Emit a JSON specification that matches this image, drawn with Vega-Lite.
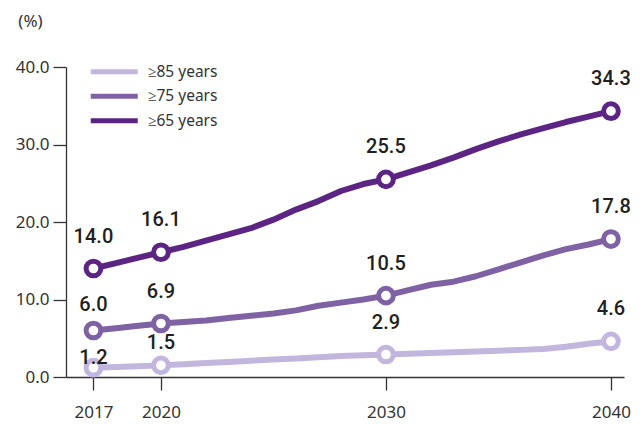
{
  "$schema": "https://vega.github.io/schema/vega-lite/v6.json",
  "width": 558,
  "height": 310,
  "autosize": "none",
  "padding": {"left": 66, "top": 67, "right": 20, "bottom": 48},
  "background": "white",
  "config": {
    "view": {"stroke": null},
    "font": "Noto Sans",
    "axis": {"grid": false, "domainColor": "#333333", "tickColor": "#333333", "labelColor": "#333333", "labelFontSize": 17, "domainWidth": 1.3, "tickWidth": 1.3}
  },
  "data": {"values": [
    {"year": 2017, "group": "≥65 years", "value": 14.0},
    {"year": 2018, "group": "≥65 years", "value": 14.7},
    {"year": 2019, "group": "≥65 years", "value": 15.4},
    {"year": 2020, "group": "≥65 years", "value": 16.1},
    {"year": 2021, "group": "≥65 years", "value": 16.8},
    {"year": 2022, "group": "≥65 years", "value": 17.6},
    {"year": 2023, "group": "≥65 years", "value": 18.4},
    {"year": 2024, "group": "≥65 years", "value": 19.2},
    {"year": 2025, "group": "≥65 years", "value": 20.3},
    {"year": 2026, "group": "≥65 years", "value": 21.6},
    {"year": 2027, "group": "≥65 years", "value": 22.7},
    {"year": 2028, "group": "≥65 years", "value": 24.0},
    {"year": 2029, "group": "≥65 years", "value": 24.9},
    {"year": 2030, "group": "≥65 years", "value": 25.5},
    {"year": 2031, "group": "≥65 years", "value": 26.4},
    {"year": 2032, "group": "≥65 years", "value": 27.3},
    {"year": 2033, "group": "≥65 years", "value": 28.3},
    {"year": 2034, "group": "≥65 years", "value": 29.4},
    {"year": 2035, "group": "≥65 years", "value": 30.4},
    {"year": 2036, "group": "≥65 years", "value": 31.3},
    {"year": 2037, "group": "≥65 years", "value": 32.1},
    {"year": 2038, "group": "≥65 years", "value": 32.9},
    {"year": 2039, "group": "≥65 years", "value": 33.6},
    {"year": 2040, "group": "≥65 years", "value": 34.3},
    {"year": 2017, "group": "≥75 years", "value": 6.0},
    {"year": 2018, "group": "≥75 years", "value": 6.3},
    {"year": 2019, "group": "≥75 years", "value": 6.6},
    {"year": 2020, "group": "≥75 years", "value": 6.9},
    {"year": 2021, "group": "≥75 years", "value": 7.1},
    {"year": 2022, "group": "≥75 years", "value": 7.3},
    {"year": 2023, "group": "≥75 years", "value": 7.6},
    {"year": 2024, "group": "≥75 years", "value": 7.9},
    {"year": 2025, "group": "≥75 years", "value": 8.2},
    {"year": 2026, "group": "≥75 years", "value": 8.6},
    {"year": 2027, "group": "≥75 years", "value": 9.2},
    {"year": 2028, "group": "≥75 years", "value": 9.6},
    {"year": 2029, "group": "≥75 years", "value": 10.0},
    {"year": 2030, "group": "≥75 years", "value": 10.5},
    {"year": 2031, "group": "≥75 years", "value": 11.2},
    {"year": 2032, "group": "≥75 years", "value": 11.9},
    {"year": 2033, "group": "≥75 years", "value": 12.3},
    {"year": 2034, "group": "≥75 years", "value": 13.0},
    {"year": 2035, "group": "≥75 years", "value": 13.9},
    {"year": 2036, "group": "≥75 years", "value": 14.8},
    {"year": 2037, "group": "≥75 years", "value": 15.7},
    {"year": 2038, "group": "≥75 years", "value": 16.5},
    {"year": 2039, "group": "≥75 years", "value": 17.1},
    {"year": 2040, "group": "≥75 years", "value": 17.8},
    {"year": 2017, "group": "≥85 years", "value": 1.2},
    {"year": 2018, "group": "≥85 years", "value": 1.3},
    {"year": 2019, "group": "≥85 years", "value": 1.4},
    {"year": 2020, "group": "≥85 years", "value": 1.5},
    {"year": 2021, "group": "≥85 years", "value": 1.65},
    {"year": 2022, "group": "≥85 years", "value": 1.8},
    {"year": 2023, "group": "≥85 years", "value": 1.95},
    {"year": 2024, "group": "≥85 years", "value": 2.1},
    {"year": 2025, "group": "≥85 years", "value": 2.25},
    {"year": 2026, "group": "≥85 years", "value": 2.4},
    {"year": 2027, "group": "≥85 years", "value": 2.55},
    {"year": 2028, "group": "≥85 years", "value": 2.7},
    {"year": 2029, "group": "≥85 years", "value": 2.8},
    {"year": 2030, "group": "≥85 years", "value": 2.9},
    {"year": 2031, "group": "≥85 years", "value": 3.0},
    {"year": 2032, "group": "≥85 years", "value": 3.1},
    {"year": 2033, "group": "≥85 years", "value": 3.2},
    {"year": 2034, "group": "≥85 years", "value": 3.3},
    {"year": 2035, "group": "≥85 years", "value": 3.4},
    {"year": 2036, "group": "≥85 years", "value": 3.5},
    {"year": 2037, "group": "≥85 years", "value": 3.6},
    {"year": 2038, "group": "≥85 years", "value": 3.9},
    {"year": 2039, "group": "≥85 years", "value": 4.3},
    {"year": 2040, "group": "≥85 years", "value": 4.6}
  ]},
  "encoding": {
    "x": {"field": "year", "type": "quantitative",
      "scale": {"domain": [2015.78, 2040.58], "nice": false, "zero": false},
      "axis": {"title": null, "values": [2017, 2020, 2030, 2040], "format": "d", "tickSize": 13, "labelPadding": 14}},
    "y": {"field": "value", "type": "quantitative",
      "scale": {"domain": [0, 40], "nice": false},
      "axis": {"values": [0, 10, 20, 30, 40], "format": ".1f", "tickSize": 13, "labelPadding": 4,
        "title": "(%)", "titleAngle": 0, "titleX": -36, "titleY": -46, "titleAlign": "center", "titleBaseline": "middle",
        "titleFontSize": 17, "titleFontWeight": "normal", "titleColor": "#333333"}}
  },
  "layer": [
    {
      "mark": {"type": "line", "strokeWidth": 6, "strokeJoin": "round", "strokeCap": "round"},
      "encoding": {
        "color": {"field": "group", "type": "nominal",
          "scale": {"domain": ["≥85 years", "≥75 years", "≥65 years"], "range": ["#c2b6df", "#7e62a3", "#5c2483"]},
          "legend": {"title": null, "orient": "none", "legendX": 40.5, "legendY": -3, "padding": 0,
            "symbolType": "M-4.7,0H4.7", "symbolSize": 100, "symbolStrokeWidth": 5,
            "labelFontSize": 15.5, "labelColor": "#333333", "labelOffset": 26, "rowPadding": 3.5}}
      }
    },
    {
      "transform": [{"filter": {"field": "year", "oneOf": [2017, 2020, 2030, 2040]}}],
      "mark": {"type": "point", "filled": true, "fill": "white", "size": 216, "strokeWidth": 5, "opacity": 1},
      "encoding": {
        "stroke": {"field": "group", "type": "nominal", "legend": null,
          "scale": {"domain": ["≥85 years", "≥75 years", "≥65 years"], "range": ["#c2b6df", "#7e62a3", "#5c2483"]}}
      }
    },
    {
      "transform": [
        {"filter": {"field": "year", "oneOf": [2017, 2020, 2030, 2040]}},
        {"filter": "!((datum.year == 2017 && datum.group == '≥85 years') || (datum.year == 2020 && datum.group == '≥85 years') || (datum.year == 2017 && datum.group == '≥75 years'))"}
      ],
      "mark": {"type": "text", "dy": -32, "fontSize": 20, "fontWeight": 500, "font": "Roboto", "color": "#231f20", "baseline": "middle"},
      "encoding": {"text": {"field": "value", "type": "quantitative", "format": ".1f"}}
    },
    {
      "transform": [{"filter": "datum.year == 2017 && datum.group == '≥85 years'"}],
      "mark": {"type": "text", "dy": -10, "fontSize": 20, "fontWeight": 500, "font": "Roboto", "color": "#231f20", "baseline": "middle"},
      "encoding": {"text": {"field": "value", "type": "quantitative", "format": ".1f"}}
    },
    {
      "transform": [{"filter": "datum.year == 2020 && datum.group == '≥85 years'"}],
      "mark": {"type": "text", "dy": -22, "fontSize": 20, "fontWeight": 500, "font": "Roboto", "color": "#231f20", "baseline": "middle"},
      "encoding": {"text": {"field": "value", "type": "quantitative", "format": ".1f"}}
    },
    {
      "transform": [{"filter": "datum.year == 2017 && datum.group == '≥75 years'"}],
      "mark": {"type": "text", "dy": -26, "fontSize": 20, "fontWeight": 500, "font": "Roboto", "color": "#231f20", "baseline": "middle"},
      "encoding": {"text": {"field": "value", "type": "quantitative", "format": ".1f"}}
    }
  ]
}
